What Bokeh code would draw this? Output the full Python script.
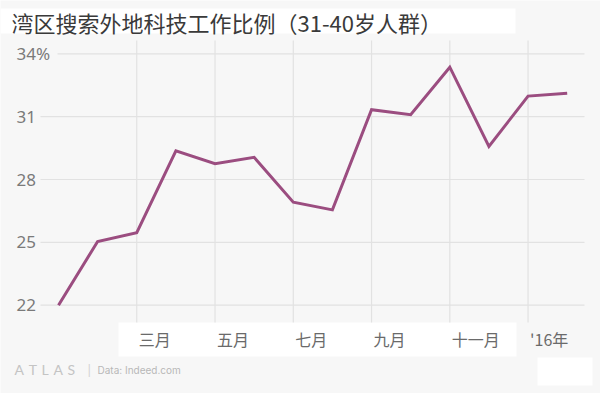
from bokeh.plotting import figure
from bokeh.models import Range1d, ColumnDataSource, BoxAnnotation
from bokeh.core.properties import value
from bokeh.embed import file_html
from bokeh.resources import INLINE

# ---- data ----
months = ["2015-01", "2015-02", "2015-03", "2015-04", "2015-05", "2015-06", "2015-07",
          "2015-08", "2015-09", "2015-10", "2015-11", "2015-12", "2016-01", "2016-02"]
share = [22.0, 25.04, 25.46, 29.37, 28.75, 29.06, 26.92, 26.55, 31.33, 31.09, 33.36, 29.58, 31.98, 32.12]
x_tick_pos = [2, 4, 6, 8, 10, 12]
x_tick_labels = ["三月", "五月", "七月", "九月", "十一月", "'16年"]
y_ticks = [22, 25, 28, 31, 34]
y_tick_labels = ["22", "25", "28", "31", "34%"]
title_text = "湾区搜索外地科技工作比例（31-40岁人群）"
source_text = "Data: Indeed.com"
brand_text = "A\u2004T\u2004L\u2004A\u2004S"

W, H = 600, 393
BG = "#f7f7f7"
LINE = "#9b4d80"
GRID = "#e2e2e2"
FONT = "Noto Sans CJK SC"

# pixel helpers (reference-image pixels -> data space); frame covers the whole figure
PX_PER_X = 39.13
X0_PX = 58.0
PX_PER_Y = 20.95
Y34_PX = 53.3


def dx(px):
    return (px - X0_PX) / PX_PER_X


def dy(py):
    return 34 - (py - Y34_PX) / PX_PER_Y


p = figure(width=W, height=H, output_backend="svg", toolbar_location=None,
           x_range=Range1d(dx(0), dx(W)), y_range=Range1d(dy(H), dy(0)),
           min_border=0, background_fill_color=BG, border_fill_color=BG,
           outline_line_color=None)
p.axis.visible = False
p.grid.visible = False

# white patches seen in the reference
for l, r, t, b in [(0, 515, 8, 33), (118, 516, 322, 356), (537, 592, 357, 385)]:
    p.add_layout(BoxAnnotation(left=dx(l), right=dx(r), top=dy(t), bottom=dy(b),
                               fill_color="white", fill_alpha=1, line_color=None, level="underlay"))

# grid lines
x0s = [dx(57) if t == 34 else dx(40) for t in y_ticks]
p.segment(x0=x0s, x1=[dx(584)] * len(y_ticks), y0=y_ticks, y1=y_ticks,
          line_color=GRID, line_width=1.2)
p.segment(x0=x_tick_pos, x1=x_tick_pos, y0=[dy(40)] * len(x_tick_pos), y1=[dy(322)] * len(x_tick_pos),
          line_color=GRID, line_width=1.2)

# series
src = ColumnDataSource(dict(x=list(range(len(months))), y=share))
p.line("x", "y", source=src, line_color=LINE, line_width=3, line_join="miter")

# y tick labels
p.text(x=[dx(16)] * len(y_ticks), y=y_ticks, text=y_tick_labels,
       text_font=value("Noto Sans"), text_font_size="17px", text_color="#7a7a7a",
       text_align="left", text_baseline="middle")

# x tick labels
p.text(x=[t + 2 / PX_PER_X for t in x_tick_pos], y=[dy(338)] * len(x_tick_pos), text=x_tick_labels,
       text_font=value(FONT), text_font_size="16px", text_color="#6a6a6a",
       text_align="left", text_baseline="middle")

# title
p.text(x=[dx(11)], y=[dy(21)], text=[title_text], text_font=value(FONT),
       text_font_size="22px", text_color="#3a3a3a", text_align="left", text_baseline="middle")

# footer
p.text(x=[dx(14)], y=[dy(369)], text=[brand_text], text_font=value("Lato"),
       text_font_size="14px", text_color="#c4c4c4", text_align="left", text_baseline="middle")
p.text(x=[dx(87)], y=[dy(369)], text=["|"], text_font=value("Lato"),
       text_font_size="14px", text_color="#d4d4d4", text_align="left", text_baseline="middle")
p.text(x=[dx(97)], y=[dy(369)], text=[source_text], text_font=value("Inter"),
       text_font_size="10px", text_color="#b8b8b8", text_align="left", text_baseline="middle")

open("out.html", "w").write(file_html(p, INLINE))
